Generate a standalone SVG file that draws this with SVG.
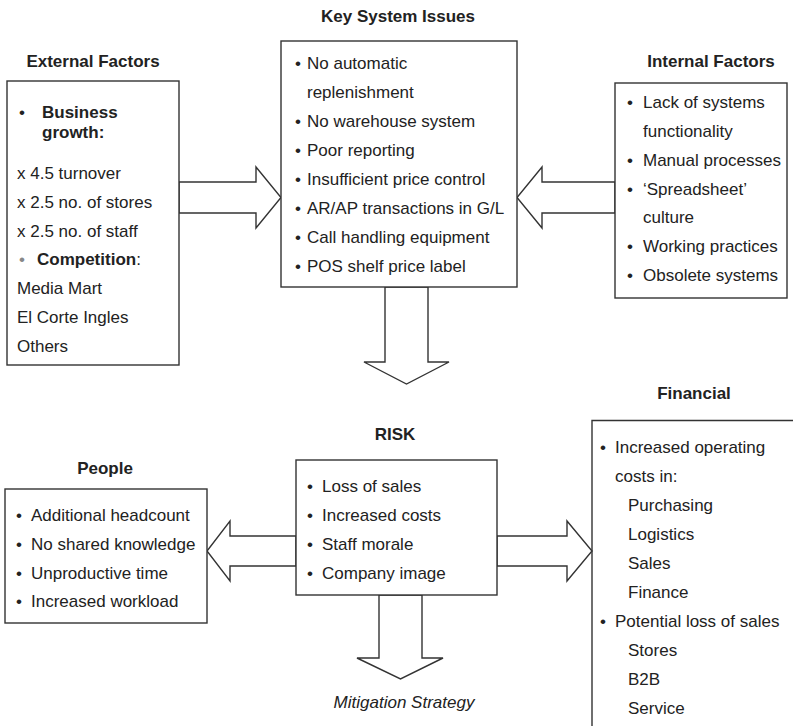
<svg xmlns="http://www.w3.org/2000/svg" width="793" height="726" viewBox="0 0 793 726">
  <style>
    text { font-family: "Liberation Sans", Arial, sans-serif; font-size: 17px; fill: #222; }
    .title { font-weight: bold; text-anchor: middle; }
    .b { font-weight: bold; }
    .box { fill: #fff; stroke: #333; stroke-width: 1.4; }
    .arrow { fill: #fff; stroke: #333; stroke-width: 1.4; stroke-linejoin: miter; }
    .grey { fill: #888; }
  </style>
  <rect width="793" height="726" fill="#fff"/>

  <!-- block arrows -->
  <g id="connectors">
    <polygon class="arrow" points="179,182 256,182 256,167 281,197.5 256,228 256,213 179,213"/>
    <polygon class="arrow" points="615,182 542,182 542,167 517,197.5 542,228 542,213 615,213"/>
    <polygon class="arrow" points="385,287 385,362 364,362 406.5,384 449,362 428,362 428,287"/>
    <polygon class="arrow" points="296,536 230,536 230,521 207,551 230,581 230,566 296,566"/>
    <polygon class="arrow" points="497,536 567,536 567,521 592,551 567,581 567,566 497,566"/>
    <polygon class="arrow" points="379,595 379,658 357,658 400.5,679 443,658 422,658 422,595"/>
  </g>

  <g id="external">
    <text class="title" x="93" y="67">External Factors</text>
    <rect class="box" x="7" y="81" width="172" height="284"/>
    <text y="118"><tspan x="19">•</tspan><tspan x="42" class="b">Business</tspan></text>
    <text x="42" y="138" class="b">growth:</text>
    <text x="17" y="179">x 4.5 turnover</text>
    <text x="17" y="208">x 2.5 no. of stores</text>
    <text x="17" y="237">x 2.5 no. of staff</text>
    <text y="265"><tspan x="19" class="grey">•</tspan><tspan x="37" class="b">Competition</tspan><tspan>:</tspan></text>
    <text x="17" y="294">Media Mart</text>
    <text x="17" y="323">El Corte Ingles</text>
    <text x="17" y="352">Others</text>
  </g>

  <g id="key-issues">
    <text class="title" x="398" y="22">Key System Issues</text>
    <rect class="box" x="281" y="41" width="236" height="246"/>
    <text y="69"><tspan x="295">•</tspan><tspan x="307">No automatic</tspan></text>
    <text x="307" y="98">replenishment</text>
    <text y="127"><tspan x="295">•</tspan><tspan x="307">No warehouse system</tspan></text>
    <text y="156"><tspan x="295">•</tspan><tspan x="307">Poor reporting</tspan></text>
    <text y="185"><tspan x="295">•</tspan><tspan x="307">Insufficient price control</tspan></text>
    <text y="214"><tspan x="295">•</tspan><tspan x="307">AR/AP transactions in G/L</tspan></text>
    <text y="243"><tspan x="295">•</tspan><tspan x="307">Call handling equipment</tspan></text>
    <text y="272"><tspan x="295">•</tspan><tspan x="307">POS shelf price label</tspan></text>
  </g>

  <g id="internal">
    <text class="title" x="711" y="67">Internal Factors</text>
    <rect class="box" x="615" y="83" width="172" height="215"/>
    <text y="108"><tspan x="627">•</tspan><tspan x="643">Lack of systems</tspan></text>
    <text x="643" y="137">functionality</text>
    <text y="166"><tspan x="627">•</tspan><tspan x="643">Manual processes</tspan></text>
    <text y="195"><tspan x="627">•</tspan><tspan x="643">‘Spreadsheet’</tspan></text>
    <text x="643" y="223">culture</text>
    <text y="252"><tspan x="627">•</tspan><tspan x="643">Working practices</tspan></text>
    <text y="281"><tspan x="627">•</tspan><tspan x="643">Obsolete systems</tspan></text>
  </g>

  <g id="risk">
    <text class="title" x="395" y="440">RISK</text>
    <rect class="box" x="296" y="460" width="201" height="135"/>
    <text y="492"><tspan x="307">•</tspan><tspan x="322">Loss of sales</tspan></text>
    <text y="521"><tspan x="307">•</tspan><tspan x="322">Increased costs</tspan></text>
    <text y="550"><tspan x="307">•</tspan><tspan x="322">Staff morale</tspan></text>
    <text y="579"><tspan x="307">•</tspan><tspan x="322">Company image</tspan></text>
  </g>

  <g id="people">
    <text class="title" x="105" y="474">People</text>
    <rect class="box" x="5" y="489" width="202" height="134"/>
    <text y="521"><tspan x="16">•</tspan><tspan x="31">Additional headcount</tspan></text>
    <text y="550"><tspan x="16">•</tspan><tspan x="31">No shared knowledge</tspan></text>
    <text y="579"><tspan x="16">•</tspan><tspan x="31">Unproductive time</tspan></text>
    <text y="607"><tspan x="16">•</tspan><tspan x="31">Increased workload</tspan></text>
  </g>

  <g id="financial">
    <text class="title" x="694" y="399">Financial</text>
    <path d="M793,420.5 H592 V726" fill="none" stroke="#333" stroke-width="1.4"/>
    <text y="453"><tspan x="600">•</tspan><tspan x="615">Increased operating</tspan></text>
    <text x="615" y="482">costs in:</text>
    <text x="628" y="511">Purchasing</text>
    <text x="628" y="540">Logistics</text>
    <text x="628" y="569">Sales</text>
    <text x="628" y="598">Finance</text>
    <text y="627"><tspan x="600">•</tspan><tspan x="615">Potential loss of sales</tspan></text>
    <text x="628" y="656">Stores</text>
    <text x="628" y="685">B2B</text>
    <text x="628" y="714">Service</text>
  </g>

  <g id="mitigation">
    <text x="404" y="708" text-anchor="middle" font-style="italic">Mitigation Strategy</text>
  </g>
</svg>
